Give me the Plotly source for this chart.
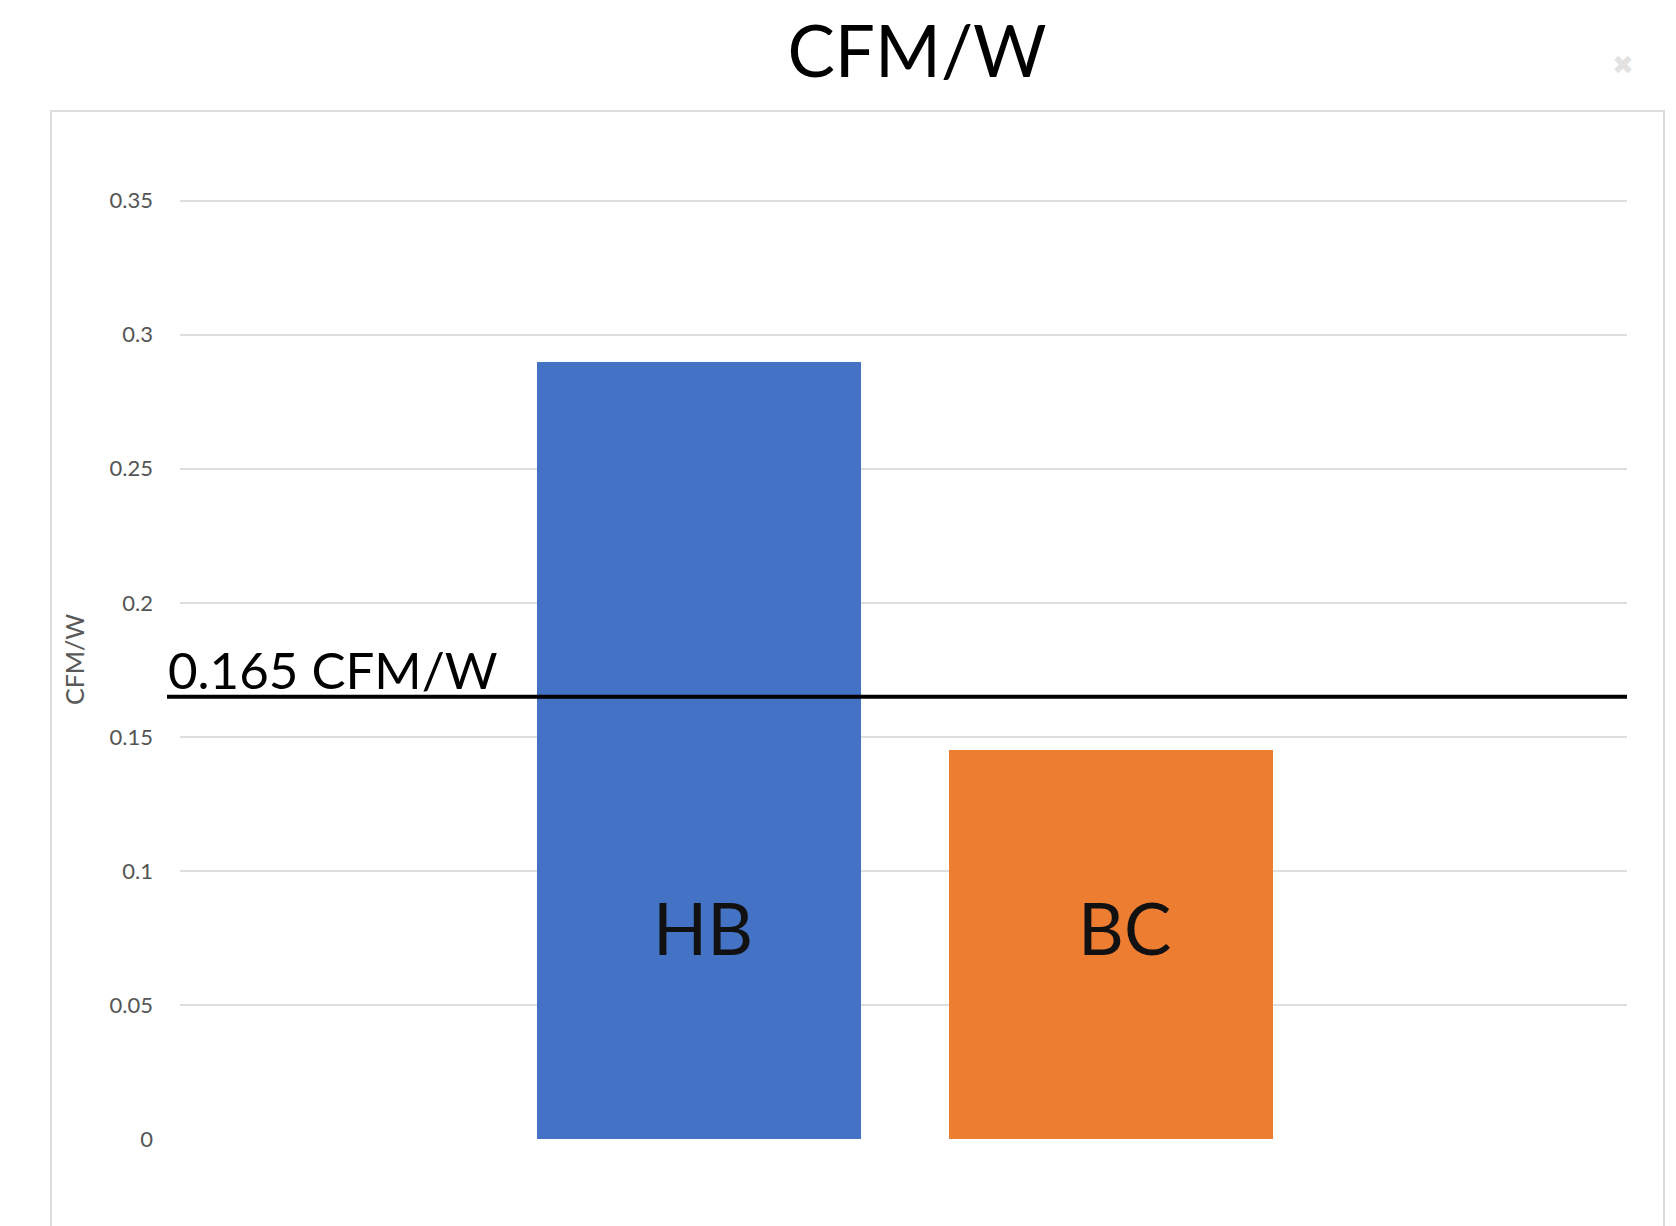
import plotly.graph_objects as go

# Chart data
categories = ["HB", "BC"]
cfm_per_watt = [0.290, 0.145]
bar_colors = ["#4472C4", "#ED7D31"]
threshold = 0.165
threshold_label = "0.165 CFM/W"
tick_values = [0, 0.05, 0.1, 0.15, 0.2, 0.25, 0.3, 0.35]
tick_labels = ["0", "0.05", "0.1", "0.15", "0.2", "0.25", "0.3", "0.35"]
label_height = 0.079  # vertical position of the in-bar category labels

FONT = "Lato"
W, H = 1676, 1226
Y_TOP = 0.351
ML, MR, MT, MB = 180, 49, 198, 87
plot_w = W - ML - MR
plot_h = H - MT - MB


def px_x(p):
    return (p - ML) / plot_w


def px_y(p):
    return (H - MB - p) / plot_h


fig = go.Figure()
fig.add_trace(go.Bar(
    x=categories,
    y=cfm_per_watt,
    marker=dict(color=bar_colors, line=dict(width=0)),
    width=0.786,
    hoverinfo="x+y",
    showlegend=False,
))

# category labels drawn inside each bar
label_shift = [4, 13]
for cat, dx in zip(categories, label_shift):
    fig.add_annotation(
        x=cat, y=label_height, text=cat, showarrow=False,
        xshift=dx, font=dict(family=FONT, size=71, color="#111111"),
        xanchor="center", yanchor="middle",
    )

# threshold line with its label
fig.add_shape(
    type="line", xref="paper", yref="y",
    x0=px_x(167), x1=1.0, y0=threshold, y1=threshold,
    line=dict(color="#000000", width=4), layer="above",
)
fig.add_annotation(
    xref="paper", yref="y", x=px_x(166), y=threshold, text=threshold_label,
    showarrow=False, xanchor="left", yanchor="bottom", yshift=-5,
    font=dict(family=FONT, size=51, color="#000000"),
)

# chart-area frame
fig.add_shape(
    type="rect", xref="paper", yref="paper",
    x0=px_x(51), x1=px_x(1664), y0=px_y(1300), y1=px_y(111),
    line=dict(color="#dcdcdc", width=2), fillcolor="rgba(0,0,0,0)", layer="below",
)

# vertical axis title
fig.add_annotation(
    xref="paper", yref="paper", x=px_x(74), y=px_y(660), text="CFM/W",
    textangle=-90, showarrow=False, xanchor="center", yanchor="middle",
    font=dict(family=FONT, size=25, color="#595959"),
)

# close glyph in the top-right corner
fig.add_annotation(
    xref="paper", yref="paper", x=px_x(1623), y=px_y(65), text="✖",
    showarrow=False, xanchor="center", yanchor="middle",
    font=dict(family="DejaVu Sans", size=26, color="#e2e2e2"),
)

fig.update_layout(
    width=W, height=H,
    margin=dict(l=ML, r=MR, t=MT, b=MB, pad=0),
    paper_bgcolor="white", plot_bgcolor="white",
    title=dict(
        text="CFM/W", xref="container", yref="container",
        x=917 / W, y=1 - 52 / H, xanchor="center", yanchor="middle",
        font=dict(family=FONT, size=71, color="#000000"),
    ),
    xaxis=dict(
        range=[-1.259, 2.252], showticklabels=False, showgrid=False,
        zeroline=False, showline=False, fixedrange=True,
    ),
    yaxis=dict(
        range=[0, Y_TOP], tickvals=tick_values, ticktext=tick_labels,
        showgrid=True, gridcolor="#dedede", gridwidth=2,
        zeroline=False, showline=False, ticks="",
        ticklabelstandoff=26,
        tickfont=dict(family=FONT, size=22, color="#555555"),
    ),
    bargap=0,
)

fig.write_html("out.html")
